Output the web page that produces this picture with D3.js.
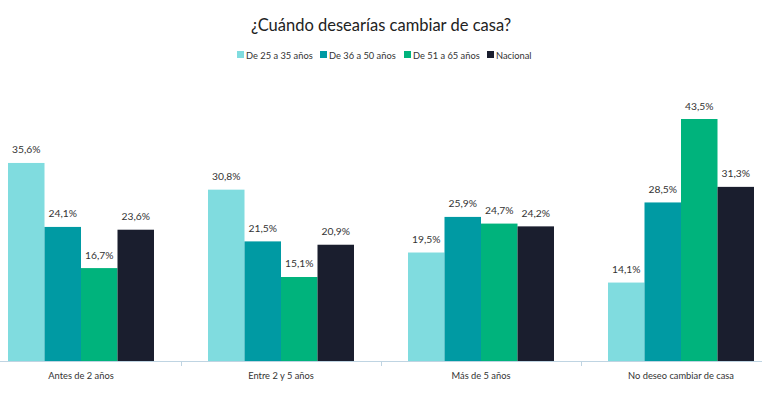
<!DOCTYPE html>
<html>
<head>
<meta charset="utf-8">
<script src="https://cdn.jsdelivr.net/npm/d3@7"></script>
<style>
  body { margin: 0; background: #fff; }
  svg { display: block; font-family: Lato, "Open Sans", sans-serif; }
</style>
</head>
<body>
<div id="chart"></div>
<script>
const categories = ["Antes de 2 años", "Entre 2 y 5 años", "Más de 5 años", "No deseo cambiar de casa"]
const series = ["De 25 a 35 años", "De 36 a 50 años", "De 51 a 65 años", "Nacional"]
const values = {
    "De 25 a 35 años": [35.6, 30.8, 19.5, 14.1],
    "De 36 a 50 años": [24.1, 21.5, 25.9, 28.5],
    "De 51 a 65 años": [16.7, 15.1, 24.7, 43.5],
    "Nacional": [23.6, 20.9, 24.2, 31.3]
}
const colors = ["#80DCDF", "#009AA3", "#00B37C", "#1A1E2E"]

const width = 768
const height = 394
const baseline = 361

const svg = d3.select("#chart").append("svg")
    .attr("width", width)
    .attr("height", height)

// title
svg.append("text")
    .attr("x", 381)
    .attr("y", 31)
    .attr("text-anchor", "middle")
    .attr("font-size", 16.5)
    .attr("fill", "#222")
    .text("¿Cuándo desearías cambiar de casa?")

// legend
const legendX = [237, 320, 404, 487]
const legend = svg.append("g").selectAll("g")
    .data(series)
    .join("g")
    .attr("transform", (d, i) => `translate(${legendX[i]},55)`)
legend.append("rect")
    .attr("x", 0).attr("y", -4)
    .attr("width", 7).attr("height", 7)
    .attr("fill", (d, i) => colors[i])
legend.append("text")
    .attr("x", 9).attr("y", 3.5)
    .attr("font-size", 9.3)
    .attr("fill", "#333")
    .text(d => d)

const x0 = d3.scaleBand().domain(categories).range([-19, 781])
const x1 = d3.scaleBand().domain(series).range([27, 173])
const y = d3.scaleLinear().domain([0, 43.5]).range([baseline, 119])

const rows = categories.map((c, ci) => ({
    cat: c,
    items: series.map((s, si) => ({ s: s, i: si, v: values[s][ci] }))
}))

const groups = svg.append("g").selectAll("g")
    .data(rows)
    .join("g")
    .attr("transform", d => `translate(${x0(d.cat)},0)`)

groups.selectAll("rect")
    .data(d => d.items)
    .join("rect")
    .attr("x", d => x1(d.s))
    .attr("y", d => y(d.v))
    .attr("width", x1.bandwidth())
    .attr("height", d => baseline - y(d.v))
    .attr("fill", d => colors[d.i])

groups.selectAll("text.val")
    .data(d => d.items)
    .join("text")
    .attr("class", "val")
    .attr("x", d => x1(d.s) + x1.bandwidth() / 2)
    .attr("y", d => y(d.v) - 9.5)
    .attr("text-anchor", "middle")
    .attr("font-size", 10.3)
    .attr("fill", "#333")
    .text(d => d.v.toFixed(1).replace(".", ",") + "%")

// x axis
svg.append("line")
    .attr("x1", 0).attr("x2", 762)
    .attr("y1", baseline + 0.5).attr("y2", baseline + 0.5)
    .attr("stroke", "#BFD4E2")
    .attr("stroke-width", 1)

svg.append("g").selectAll("line")
    .data(categories.slice(1))
    .join("line")
    .attr("x1", d => Math.round(x0(d)) + 0.5)
    .attr("x2", d => Math.round(x0(d)) + 0.5)
    .attr("y1", baseline)
    .attr("y2", baseline + 5)
    .attr("stroke", "#BFD4E2")

svg.append("g").selectAll("text")
    .data(categories)
    .join("text")
    .attr("x", d => x0(d) + x0.bandwidth() / 2)
    .attr("y", 379)
    .attr("text-anchor", "middle")
    .attr("font-size", 9.3)
    .attr("fill", "#333")
    .text(d => d)
</script>
</body>
</html>
